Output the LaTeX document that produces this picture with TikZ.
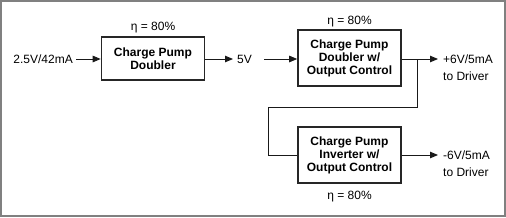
\documentclass[tikz,border=0pt]{standalone}
\usepackage{fontspec}
\setmainfont{Liberation Sans}
\usetikzlibrary{arrows.meta}
\begin{document}
\begin{tikzpicture}[x=1pt,y=-1pt,
  every node/.style={font=\fontsize{12}{13}\selectfont},
  pumpbox/.style={draw=black!85,line width=1.6pt,minimum width=103pt,align=center,inner sep=0pt,font=\fontsize{12}{13}\selectfont\bfseries},
  conn/.style={draw=black!90,line width=0.9pt},
  arr/.style={conn,-{Triangle[length=8pt,width=6.5pt]}},
  lbl/.style={inner sep=0pt,align=left}]
\useasboundingbox (0,0) rectangle (506,217);
\draw[draw=black!50,line width=2pt] (1,1) rectangle (505,216);
% boxes
\node[pumpbox,minimum height=43pt] (b1) at (153,58.5) {Charge Pump\\Doubler};
\node[pumpbox,minimum height=56pt] (b2) at (349.5,58) {Charge Pump\\Doubler w/\\Output Control};
\node[pumpbox,minimum height=56pt] (b3) at (349.5,155) {Charge Pump\\Inverter w/\\Output Control};
% efficiency labels
\node (e1) at (153,28) {η = 80\%};
\node (e2) at (349.5,22) {η = 80\%};
\node (e3) at (349.5,197) {η = 80\%};
% input / intermediate / output labels
\node[lbl,anchor=east] (in) at (73,59) {2.5V/42mA};
\node[lbl,anchor=west] (v5) at (237,59) {5V};
\node[lbl,anchor=west] (o1) at (443,59) {+6V/5mA};
\node[lbl,anchor=west] (o1b) at (443,76) {to Driver};
\node[lbl,anchor=west] (o2) at (443,155) {-6V/5mA};
\node[lbl,anchor=west] (o2b) at (443,172) {to Driver};
% connectors
\coordinate (j) at (417,59);
\draw[arr] (in.east) ++(3,0) -- (b1.west |- 0,59);
\draw[arr] (b1.east |- 0,59) -- ([xshift=-4pt]v5.west);
\draw[arr] ([xshift=12pt]v5.east) -- (b2.west |- 0,59);
\draw[arr] (b2.east |- 0,59) -- ([xshift=-5pt]o1.west);
\draw[conn] (j) -- (417,107) -- (268,107) -- (268,155) -- (b3.west);
\draw[arr] (b3.east) -- ([xshift=-5pt]o2.west);
\end{tikzpicture}
\end{document}
